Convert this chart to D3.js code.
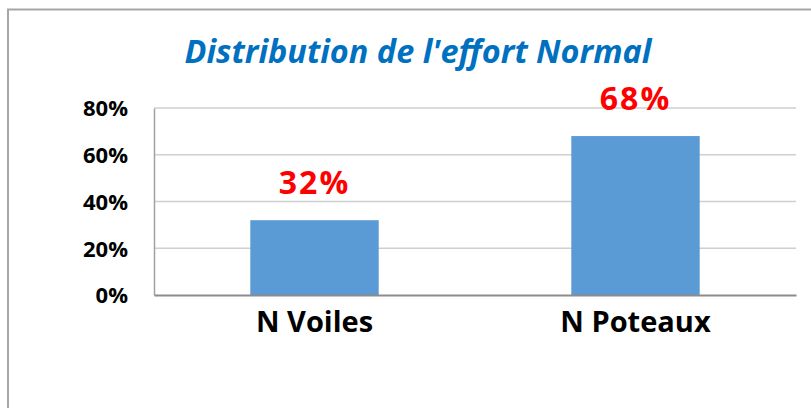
<!DOCTYPE html>
<html>
<head>
<meta charset="utf-8">
<script src="https://cdn.jsdelivr.net/npm/d3@7"></script>
<style>
  html, body { margin: 0; padding: 0; background: #fff; }
  svg { display: block; }
</style>
</head>
<body>
<svg id="chart" width="811" height="408"></svg>
<script>
// Chart data
const categories = ["N Voiles", "N Poteaux"];
const shares = [0.32, 0.68];
const valueLabels = ["32%", "68%"];
const yTicks = [0, 0.2, 0.4, 0.6, 0.8];
const yTickLabels = ["0%", "20%", "40%", "60%", "80%"];
const titleText = "Distribution de l'effort Normal";

const svg = d3.select("#chart");

// Outer chart frame
svg.append("rect")
  .attr("x", 8).attr("y", 9.5)
  .attr("width", 830).attr("height", 430)
  .attr("fill", "#fff")
  .attr("stroke", "#a6a6a6")
  .attr("stroke-width", 2);

const plot = { left: 154, right: 796, top: 108, bottom: 295 };

const x = d3.scaleBand()
  .domain(categories)
  .range([plot.left, plot.right])
  .paddingInner(0.6)
  .paddingOuter(0.3);

const y = d3.scaleLinear()
  .domain([0, 0.8])
  .range([plot.bottom, plot.top]);

// Horizontal gridlines
svg.append("g")
  .selectAll("line")
  .data(yTicks.filter(d => d > 0))
  .join("line")
  .attr("x1", plot.left).attr("x2", plot.right)
  .attr("y1", d => y(d)).attr("y2", d => y(d))
  .attr("stroke", "#cfcfcf")
  .attr("stroke-width", 1.5);

// Y axis with percentage labels
const yAxis = d3.axisLeft(y)
  .tickValues(yTicks)
  .tickFormat((d, i) => yTickLabels[i])
  .tickSize(0)
  .tickPadding(26);

const gy = svg.append("g")
  .attr("transform", `translate(${plot.left},0)`)
  .call(yAxis);
gy.select(".domain").attr("stroke", "#a0a0a0").attr("stroke-width", 1.5);
gy.selectAll("text")
  .attr("font-family", "'Open Sans', sans-serif")
  .attr("font-weight", 700)
  .attr("font-size", 22)
  .attr("fill", "#000")
  .attr("dy", "0.36em");

// Bars
svg.append("g")
  .selectAll("rect")
  .data(categories)
  .join("rect")
  .attr("x", d => x(d))
  .attr("width", x.bandwidth())
  .attr("y", (d, i) => y(shares[i]))
  .attr("height", (d, i) => y(0) - y(shares[i]))
  .attr("fill", "#5b9bd5");

// X axis with category labels
const xAxis = d3.axisBottom(x).tickSize(0).tickPadding(16);
const gx = svg.append("g")
  .attr("transform", `translate(0,${plot.bottom})`)
  .call(xAxis);
gx.select(".domain").attr("stroke", "#8c8c8c").attr("stroke-width", 2);
gx.selectAll("text")
  .attr("font-family", "'Open Sans', sans-serif")
  .attr("font-weight", 700)
  .attr("font-size", 29)
  .attr("fill", "#000")
  .attr("dy", "0.72em");

// Value labels above bars
svg.append("g")
  .selectAll("text")
  .data(categories)
  .join("text")
  .attr("x", d => x(d) + x.bandwidth() / 2)
  .attr("y", (d, i) => y(shares[i]) - 26)
  .attr("text-anchor", "middle")
  .attr("font-family", "'Open Sans', sans-serif")
  .attr("font-weight", 700)
  .attr("font-size", 32)
  .attr("letter-spacing", 2)
  .attr("fill", "#ff0000")
  .text((d, i) => valueLabels[i]);

// Title
svg.append("text")
  .attr("x", 418)
  .attr("y", 63)
  .attr("text-anchor", "middle")
  .attr("font-family", "'Open Sans', sans-serif")
  .attr("font-style", "italic")
  .attr("font-weight", 700)
  .attr("font-size", 32)
  .attr("textLength", 467)
  .attr("lengthAdjust", "spacingAndGlyphs")
  .attr("fill", "#0070c0")
  .text(titleText);
</script>
</body>
</html>
